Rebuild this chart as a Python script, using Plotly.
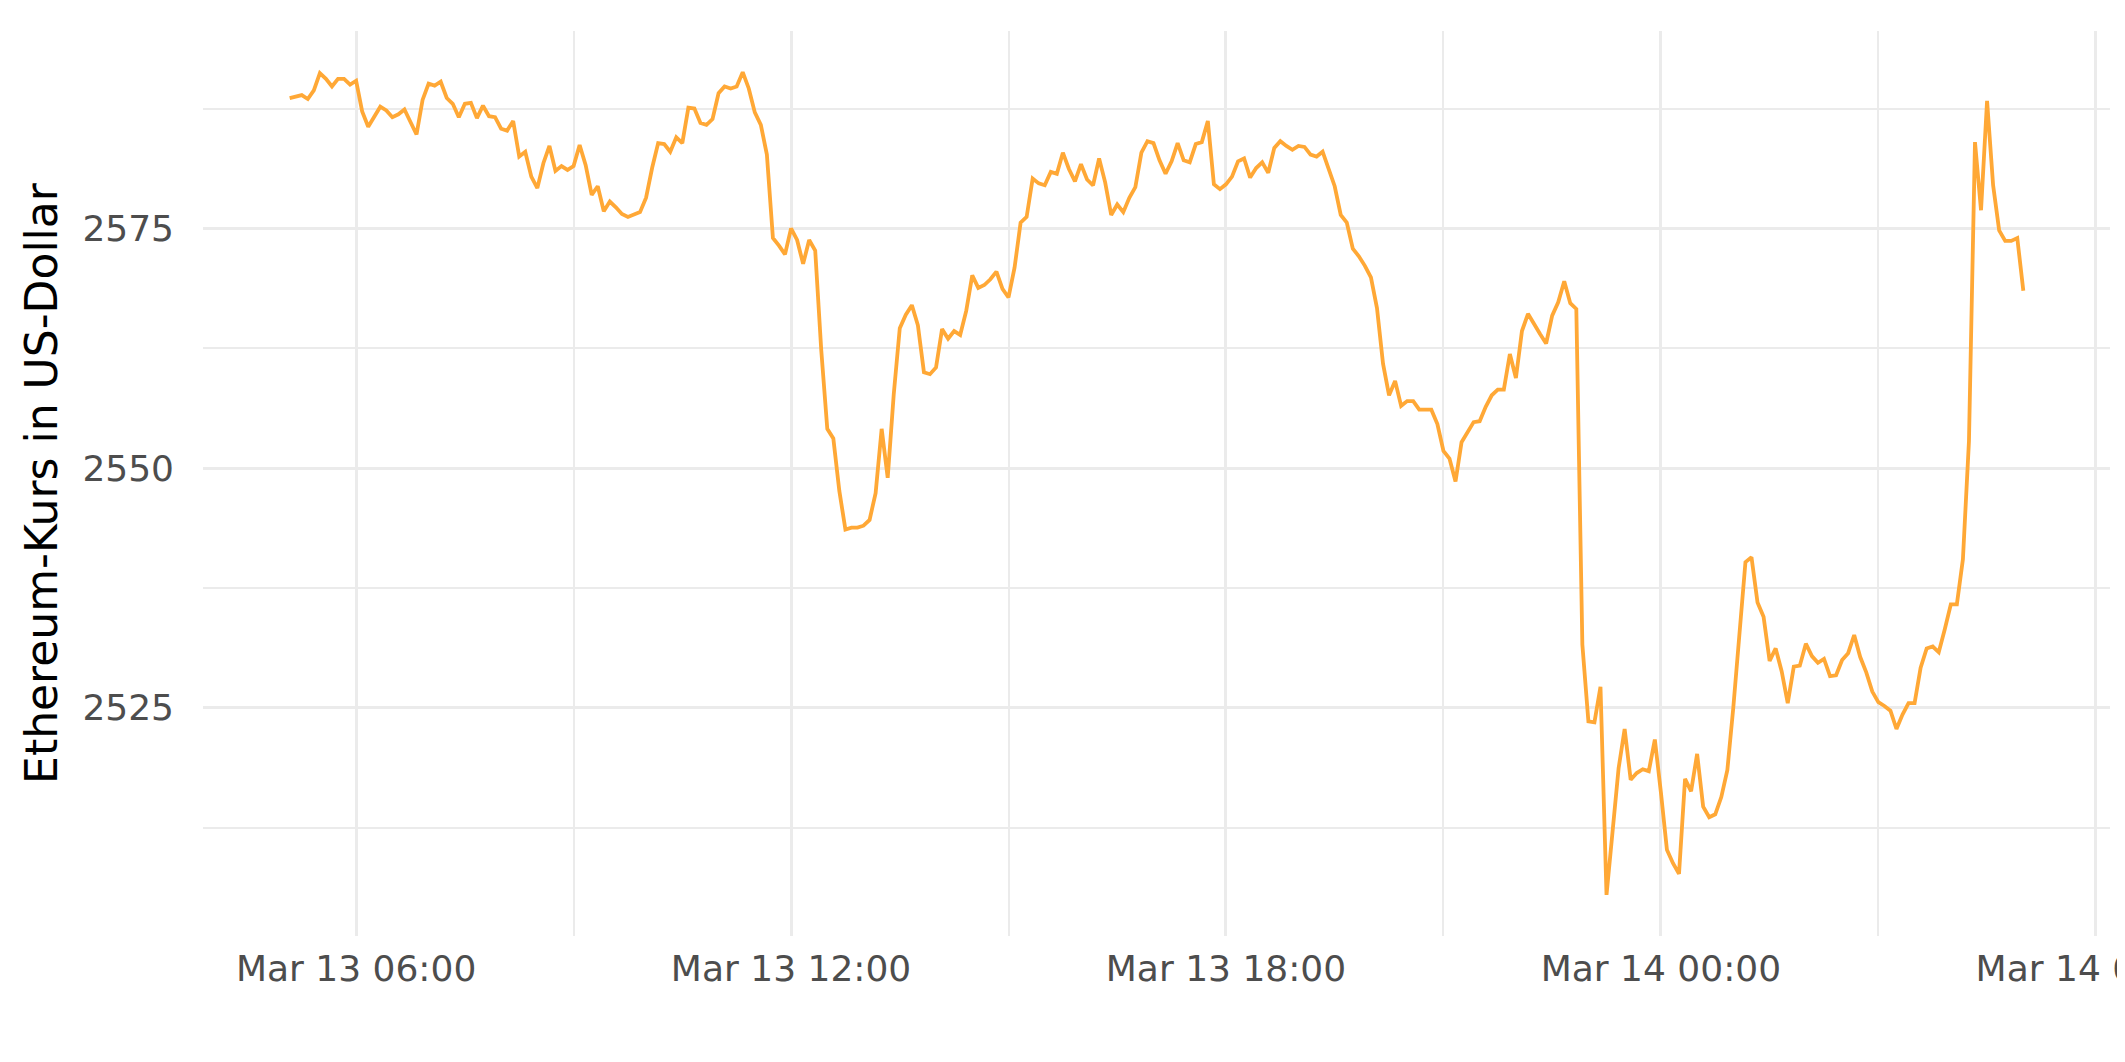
import pandas as pd
import plotly.graph_objects as go

# ---- data (5-minute ETH prices) ----
start_time = "2022-03-13 05:05"
interval = "5min"

prices_part1 = [
    2588.6, 2588.7, 2588.9, 2588.5, 2589.4, 2591.2, 2590.6, 2589.8, 2590.6, 2590.6,
    2590.0, 2590.4, 2587.2, 2585.6, 2586.7, 2587.7, 2587.3, 2586.6, 2586.9, 2587.4,
    2586.1, 2584.8, 2588.4, 2590.1, 2589.9, 2590.3, 2588.6, 2588.0, 2586.6, 2588.0,
    2588.1, 2586.5, 2587.8, 2586.7, 2586.6, 2585.4, 2585.2, 2586.2, 2582.5, 2583.0,
    2580.4, 2579.2, 2581.8, 2583.6, 2581.0, 2581.5, 2581.1, 2581.5, 2583.7, 2581.6,
    2578.5, 2579.4, 2576.8, 2577.8, 2577.2, 2576.5, 2576.2, 2576.4, 2576.7, 2578.2,
    2581.3, 2583.9, 2583.8, 2583.0, 2584.5, 2583.9, 2587.6, 2587.5, 2586.0, 2585.8,
]
prices_part2 = [
    2586.4, 2589.1, 2589.8, 2589.6, 2589.8, 2591.3, 2589.6, 2587.1, 2585.8, 2582.7,
    2574.0, 2573.2, 2572.3, 2575.0, 2573.8, 2571.3, 2573.8, 2572.7, 2562.3, 2554.1,
    2553.1, 2547.6, 2543.6, 2543.8, 2543.8, 2544.0, 2544.6, 2547.4, 2554.1, 2549.0,
    2557.7, 2564.6, 2566.0, 2567.0, 2564.9, 2560.0, 2559.8, 2560.5, 2564.5, 2563.5,
    2564.3, 2563.9, 2566.4, 2570.1, 2568.8, 2569.1, 2569.7, 2570.5, 2568.7, 2567.8,
    2570.9, 2575.6, 2576.2, 2580.2, 2579.7, 2579.5, 2580.9, 2580.7, 2582.9, 2581.2,
    2579.9, 2581.7, 2580.1, 2579.5, 2582.3, 2579.8, 2576.4, 2577.5, 2576.7, 2578.2,
    2579.3, 2582.9, 2584.1, 2583.9, 2582.1, 2580.7, 2582.0, 2583.9, 2582.1, 2581.9,
    2583.8, 2584.0, 2586.2,
]
prices_part3 = [
    2579.6, 2579.1, 2579.6, 2580.4, 2582.0, 2582.3, 2580.3, 2581.3, 2581.9, 2580.8,
    2583.4, 2584.1, 2583.6, 2583.2, 2583.6, 2583.5, 2582.7, 2582.5, 2583.0, 2581.2,
    2579.4, 2576.4, 2575.6, 2572.9, 2572.1, 2571.1, 2569.9, 2566.7, 2560.9, 2557.6,
    2559.1, 2556.5, 2557.0, 2557.0, 2556.1, 2556.1, 2556.1, 2554.6, 2551.8, 2551.0,
    2548.6, 2552.7, 2553.7, 2554.8, 2554.9, 2556.4, 2557.6, 2558.2, 2558.2, 2561.9,
    2559.4, 2564.3, 2566.1, 2565.0, 2564.0, 2563.0, 2565.9, 2567.3, 2569.5, 2567.2,
    2566.6,
]
prices_part4 = [
    2531.6, 2523.6, 2523.5, 2527.2, 2505.5, 2512.6, 2518.7, 2522.8, 2517.5, 2518.2,
    2518.6, 2518.4, 2521.7, 2516.2, 2510.2, 2508.8, 2507.7, 2517.6, 2516.3, 2520.2,
    2514.7, 2513.6, 2513.9, 2515.7, 2518.5, 2525.1, 2533.2, 2540.2, 2540.7, 2536.0,
    2534.5, 2529.9, 2531.2, 2528.8, 2525.5, 2529.3, 2529.4, 2531.7, 2530.4, 2529.7,
    2530.1, 2528.3, 2528.4, 2530.0, 2530.7, 2532.6, 2530.3, 2528.7, 2526.7, 2525.6,
    2525.2, 2524.7, 2522.8, 2524.3, 2525.5, 2525.5, 2529.2, 2531.2, 2531.4, 2530.8,
    2533.2, 2535.8, 2535.8, 2540.5,
]
prices_part5 = [
    2552.8, 2584.0, 2576.9, 2588.3, 2579.5, 2574.8, 2573.7, 2573.7, 2574.0, 2568.5,
]

y_tickvals = [2525, 2550, 2575]
y_title = "Ethereum-Kurs in US-Dollar"

prices = prices_part1 + prices_part2 + prices_part3 + prices_part4 + prices_part5
times = pd.date_range(start=start_time, periods=len(prices), freq=interval)

# ggplot-like 5% expansion
t0, t1 = times[0], times[-1]
tpad = (t1 - t0) * 0.05
x_range = [t0 - tpad, t1 + tpad]
ymin, ymax = min(prices), max(prices)
ypad = (ymax - ymin) * 0.05
y_range = [ymin - ypad, ymax + ypad]

GRID = "#EBEBEB"
FONT = "DejaVu Sans"

fig = go.Figure()
fig.add_trace(go.Scatter(
    x=times, y=prices, mode="lines",
    line=dict(color="#FFA836", width=3.8),
    hoverinfo="skip", showlegend=False,
))

fig.update_layout(
    width=2125, height=1062,
    margin=dict(l=195, r=23, t=23, b=134),
    paper_bgcolor="white", plot_bgcolor="white",
    font=dict(family=FONT),
    showlegend=False,
)

fig.update_xaxes(
    type="date", range=x_range,
    tick0="2022-03-13 00:00", dtick=6 * 3600 * 1000,
    tickformat="%b %d %H:%M",
    showgrid=True, gridcolor=GRID, gridwidth=3.4,
    minor=dict(dtick=3 * 3600 * 1000, showgrid=True, gridcolor=GRID, gridwidth=1.8),
    zeroline=False, showline=False, ticks="",
    tickfont=dict(family=FONT, size=36, color="#4D4D4D"),
    ticklabelstandoff=8,
    ticklabeloverflow="allow",
    automargin=False,
)

fig.update_yaxes(
    range=y_range,
    tickvals=y_tickvals,
    showgrid=True, gridcolor=GRID, gridwidth=3.4,
    minor=dict(tick0=2500, dtick=12.5, showgrid=True, gridcolor=GRID, gridwidth=1.8),
    zeroline=False, showline=False, ticks="",
    tickfont=dict(family=FONT, size=36, color="#4D4D4D"),
    ticklabelstandoff=28,
    automargin=False,
    title=dict(text=y_title, font=dict(family=FONT, size=44, color="black"), standoff=10),
)

fig.write_html("out.html")
